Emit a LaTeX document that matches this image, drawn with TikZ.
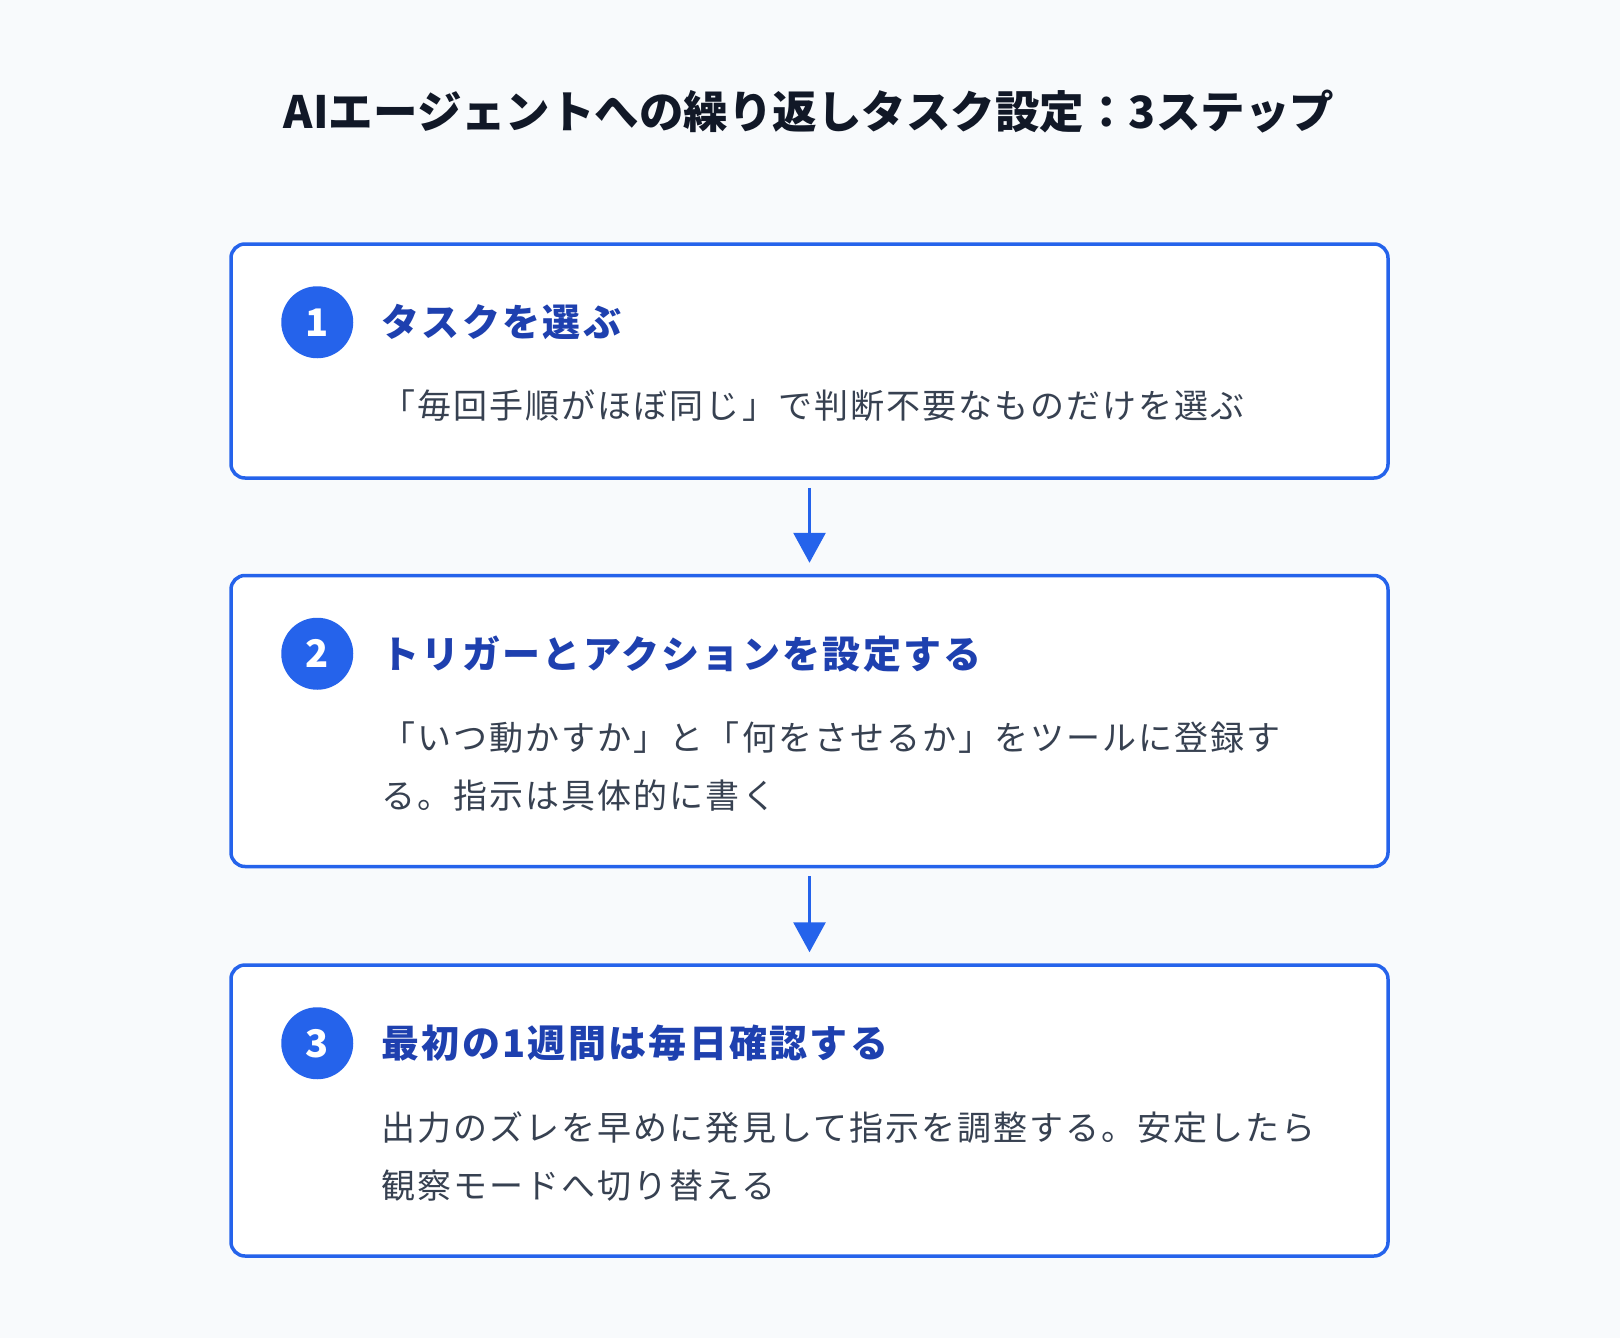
\documentclass[tikz,border=0pt]{standalone}
\usepackage{fontspec}
\setmainfont{Noto Sans CJK JP}
\newfontfamily\bodyfont[LetterSpace=6]{Noto Sans CJK JP}
\newfontfamily\headfont[LetterSpace=6]{Noto Sans CJK JP}
\usetikzlibrary{positioning,arrows.meta}
\definecolor{pagebg}{HTML}{F8FAFC}
\definecolor{stepblue}{HTML}{2563EB}
\definecolor{headblue}{HTML}{1E40AF}
\definecolor{ink}{HTML}{111827}
\definecolor{bodygray}{HTML}{374151}

\begin{document}
\begin{tikzpicture}[x=1pt,y=-1pt,
    stepbox/.style={draw=stepblue,line width=3.5pt,fill=white,rounded corners=14pt,
        minimum width=1157pt,inner sep=0pt},
    stepnum/.style={circle,fill=stepblue,minimum size=72pt,inner sep=0pt,
        text=white,font=\fontsize{38}{38}\selectfont\bfseries},
    stephead/.style={inner sep=0pt,anchor=west,text=headblue,
        font=\headfont\fontsize{38}{38}\selectfont\bfseries},
    stepdesc/.style={inner sep=0pt,anchor=base west,align=left,text=bodygray,
        font=\bodyfont\fontsize{34}{58}\selectfont},
    flow/.style={draw=stepblue,line width=3pt,-{Triangle[length=30pt,width=32pt]}}]
        \fill[pagebg] (0,0) rectangle (1620,1338);
        \useasboundingbox (0,0) rectangle (1620,1338);
        \node(T) [text=ink,font=\fontsize{44.5}{44.5}\selectfont\bfseries] at (809,112)
            {AIエージェントへの繰り返しタスク設定：3ステップ};
        \node(S1) [stepbox,minimum height=234pt] at (809.5,361) {};
        \node(S2) [stepbox,minimum height=291pt,below=94pt of S1] {};
        \node(S3) [stepbox,minimum height=291pt,below=95pt of S2] {};
        \node(N1) [stepnum] at ([xshift=88pt,yshift=-80pt]S1.north west) {1};
        \node(N2) [stepnum] at ([xshift=88pt,yshift=-80pt]S2.north west) {2};
        \node(N3) [stepnum] at ([xshift=88pt,yshift=-80pt]S3.north west) {3};
        \node(H1) [stephead,right=28pt of N1] {タスクを選ぶ};
        \node(H2) [stephead,right=28pt of N2] {トリガーとアクションを設定する};
        \node(H3) [stephead,right=28pt of N3] {最初の1週間は毎日確認する};
        % base of a two-line node sits on its last line
        \node(D1) [stepdesc] at ([yshift=-176pt]H1.west |- S1.north)
            {「毎回手順がほぼ同じ」で判断不要なものだけを選ぶ};
        \node(D2) [stepdesc] at ([yshift=-235pt]H2.west |- S2.north)
            {「いつ動かすか」と「何をさせるか」をツールに登録す\\る。指示は具体的に書く};
        \node(D3) [stepdesc] at ([yshift=-235pt]H3.west |- S3.north)
            {出力のズレを早めに発見して指示を調整する。安定したら\\観察モードへ切り替える};
        \draw[flow] ([yshift=-8pt]S1.south) -- ([yshift=11pt]S2.north);
        \draw[flow] ([yshift=-8pt]S2.south) -- ([yshift=11pt]S3.north);
    \end{tikzpicture}
\end{document}
